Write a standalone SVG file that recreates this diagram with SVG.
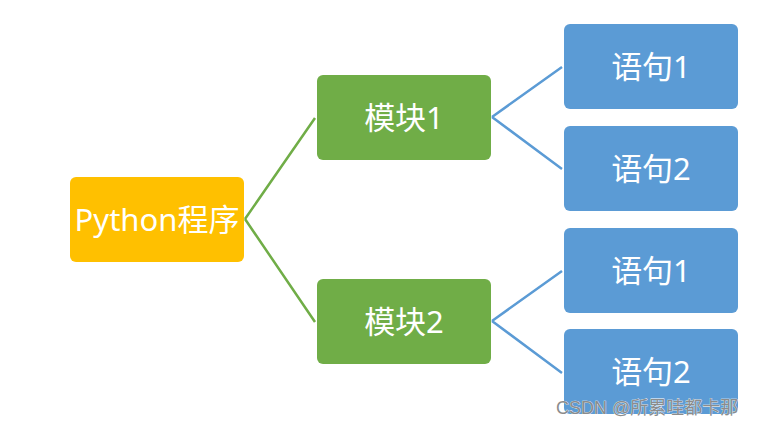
<svg xmlns="http://www.w3.org/2000/svg" width="761" height="426" viewBox="0 0 761 426">
<style>
.lbl{font-family:"Noto Sans","Noto Sans CJK SC",sans-serif;font-size:31px;fill:#fff;text-anchor:middle;dominant-baseline:central}
.g{stroke:#70AD47;stroke-width:2.5;fill:none}
.b{stroke:#5B9BD5;stroke-width:2.5;fill:none}
.wm{font-family:"Liberation Sans","Noto Sans CJK SC",sans-serif;font-size:18px;fill:#8c8c8c;stroke:#fff;stroke-width:0.6;paint-order:stroke}
</style>
<rect width="761" height="426" fill="#fff"/>
<g id="connectors">
<path class="g" d="M245 219 L315 118 M245 219 L315 322"/>
<path class="b" d="M492 117 L562 67 M492 117 L562 169"/>
<path class="b" d="M492 321 L562 271 M492 321 L562 373"/>
</g>
<g id="n-python"><rect x="70" y="177" width="174" height="85" rx="6" fill="#FFC000"/><text class="lbl" x="157" y="219">Python程序</text></g>
<g id="n-mod1"><rect x="317" y="75" width="174" height="85" rx="6" fill="#70AD47"/><text class="lbl" x="404" y="117">模块1</text></g>
<g id="n-mod2"><rect x="317" y="279" width="174" height="85" rx="6" fill="#70AD47"/><text class="lbl" x="404" y="321">模块2</text></g>
<g id="n-s11"><rect x="564" y="24" width="174" height="85" rx="6" fill="#5B9BD5"/><text class="lbl" x="651" y="66">语句1</text></g>
<g id="n-s12"><rect x="564" y="126" width="174" height="85" rx="6" fill="#5B9BD5"/><text class="lbl" x="651" y="168">语句2</text></g>
<g id="n-s21"><rect x="564" y="228" width="174" height="85" rx="6" fill="#5B9BD5"/><text class="lbl" x="651" y="270">语句1</text></g>
<g id="n-s22"><rect x="564" y="329" width="174" height="85" rx="6" fill="#5B9BD5"/><text class="lbl" x="651" y="371">语句2</text></g>
<text class="wm" x="556" y="414">CSDN @所累哇都卡那</text>
</svg>
